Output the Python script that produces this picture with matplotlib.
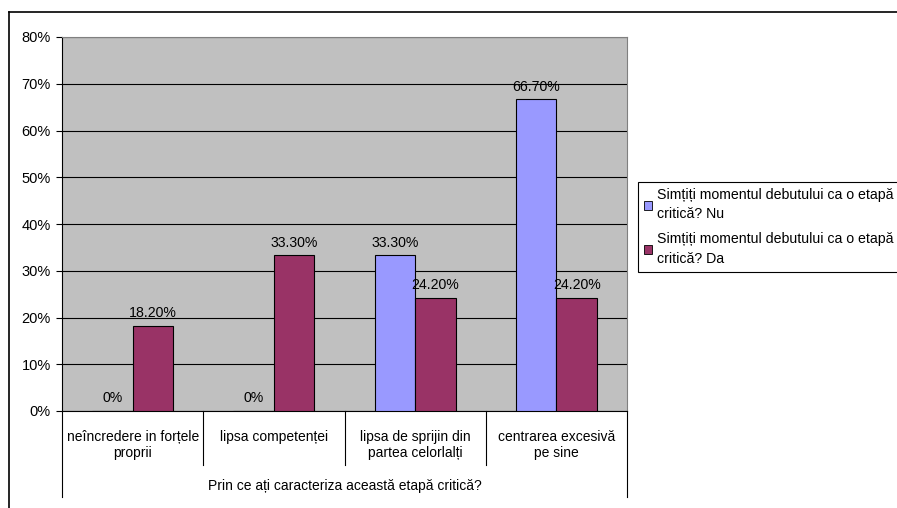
import numpy as np
import matplotlib
matplotlib.use('Agg')
import matplotlib.pyplot as plt
from matplotlib.patches import Patch
from matplotlib.lines import Line2D

plt.rcParams['font.family'] = ['Liberation Sans', 'DejaVu Sans']

# Datele din grafic
categorii = ['neîncredere in forțele\nproprii', 'lipsa competenței',
             'lipsa de sprijin din\npartea celorlalți', 'centrarea excesivă\npe sine']
valori_nu = [0, 0, 33.3, 66.7]
valori_da = [18.2, 33.3, 24.2, 24.2]
serie_nu = 'Simțiți momentul debutului ca o etapă\ncritică? Nu'
serie_da = 'Simțiți momentul debutului ca o etapă\ncritică? Da'
titlu_axa = 'Prin ce ați caracteriza această etapă critică?'
yticks = [0, 10, 20, 30, 40, 50, 60, 70, 80]

culoare_nu = '#9999FF'
culoare_da = '#993366'
fs = 10.2

fig = plt.figure(figsize=(8.97, 5.08), dpi=100)
ax = fig.add_axes([62 / 897, 1 - 411 / 508, 565 / 897, 374 / 508])
ax.set_facecolor('#C0C0C0')

x = np.arange(len(categorii))
w = 0.287
bare_nu = ax.bar(x - w / 2, valori_nu, w, color=culoare_nu, edgecolor='black', linewidth=0.8, zorder=3)
bare_da = ax.bar(x + w / 2, valori_da, w, color=culoare_da, edgecolor='black', linewidth=0.8, zorder=3)

def eticheta(v):
    return '0%' if v == 0 else f'{v:.2f}%'

for bare, valori in [(bare_nu, valori_nu), (bare_da, valori_da)]:
    for b, v in zip(bare, valori):
        ax.annotate(eticheta(v), (b.get_x() + b.get_width() / 2, v), xytext=(0, 4),
                    textcoords='offset points', ha='center', va='bottom', fontsize=fs, zorder=4)

ax.set_xlim(-0.5, 3.5)
ax.set_ylim(0, 80)
ax.set_yticks(yticks)
ax.set_yticklabels([f'{t}%' for t in yticks], fontsize=10.5)
ax.tick_params(axis='y', length=4, width=0.8, pad=4)
ax.set_xticks([])
ax.yaxis.grid(True, color='black', linewidth=0.8, zorder=1)
ax.set_axisbelow(True)

ax.spines['left'].set_color('black')
ax.spines['bottom'].set_color('black')
ax.spines['top'].set_color('#808080')
ax.spines['right'].set_color('#808080')

# axa de categorii cu separatori
tr = ax.get_xaxis_transform()
for xv in [0.5, 1.5, 2.5]:
    ax.add_line(Line2D([xv, xv], [0, -0.144], transform=tr, color='black', linewidth=0.8, clip_on=False))
for xv in [-0.5, 3.5]:
    ax.add_line(Line2D([xv, xv], [0, -0.23], transform=tr, color='black', linewidth=0.8, clip_on=False))
for xi, c in zip(x, categorii):
    ax.text(xi, -0.05, c, transform=tr, ha='center', va='top', fontsize=10, linespacing=1.25)
ax.text(1.5, -0.2, titlu_axa, transform=tr, ha='center', va='center', fontsize=10)

# legenda
handles = [Patch(facecolor=culoare_nu, edgecolor='black', linewidth=0.6),
           Patch(facecolor=culoare_da, edgecolor='black', linewidth=0.6)]
leg = fig.legend(handles, [serie_nu, serie_da], loc='upper left',
                 bbox_to_anchor=(638 / 897, 1 - 182 / 508), fontsize=fs,
                 frameon=True, fancybox=False, edgecolor='black', framealpha=1,
                 handlelength=0.6, handleheight=0.6, handletextpad=0.35,
                 labelspacing=0.78, borderpad=0.42, borderaxespad=0)
leg.get_frame().set_linewidth(0.8)
for t in leg.get_texts():
    t.set_linespacing(1.5)

# chenarul graficului
fig.add_artist(Line2D([9 / 897, 1], [1 - 12 / 508, 1 - 12 / 508], transform=fig.transFigure, color='black', linewidth=1.2))
fig.add_artist(Line2D([9 / 897, 9 / 897], [0, 1 - 12 / 508], transform=fig.transFigure, color='black', linewidth=1.2))

fig.savefig('out.png', dpi=100)
